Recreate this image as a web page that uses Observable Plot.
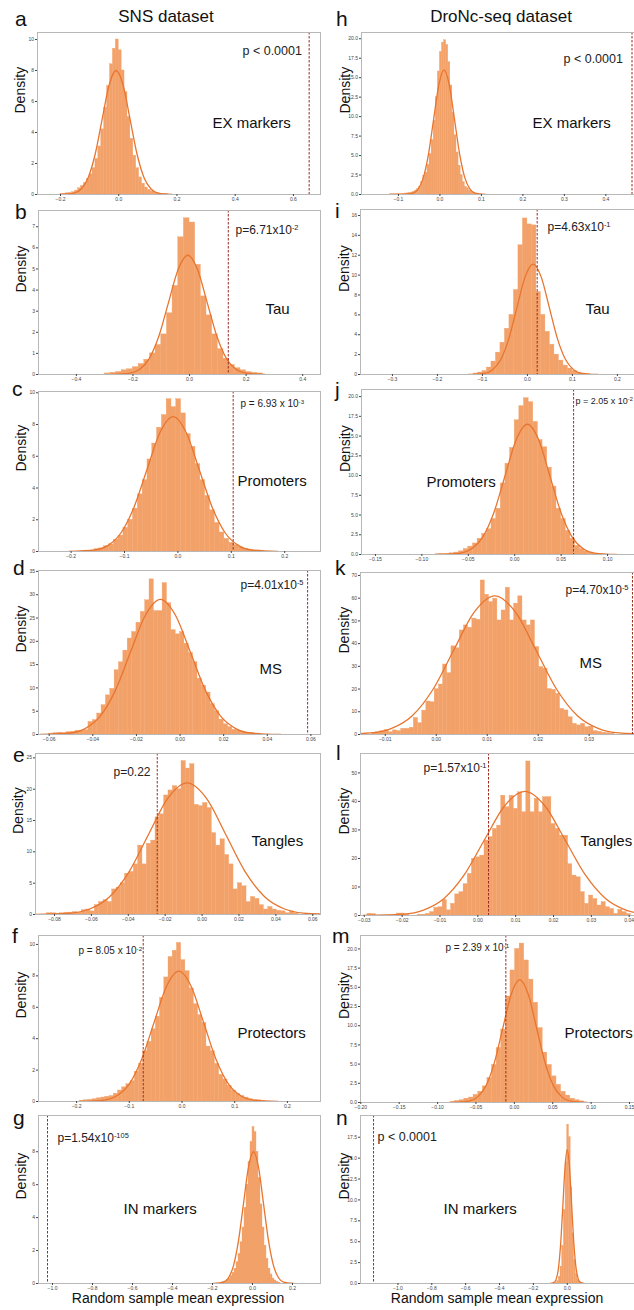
<!DOCTYPE html>
<html><head><meta charset="utf-8">
<script src="https://cdn.jsdelivr.net/npm/d3@7"></script>
<script src="https://cdn.jsdelivr.net/npm/@observablehq/plot@0.6"></script>
<style>
body{margin:0;background:#fff;}
#fig{position:relative;width:634px;height:1310px;overflow:hidden;background:#fff;}
</style></head>
<body><div id="fig"></div>
<script>
// ---------------- DATA ----------------
const columnTitles = ["SNS dataset", "DroNc-seq dataset"];
const panelLetters = ["a","b","c","d","e","f","g","h","i","j","k","l","m","n"];
const xAxisTitle = "Random sample mean expression";
const yAxisTitle = "Density";

// a: SNS, EX markers
const snsExStart = -0.20, snsExWidth = 0.01;
const snsExDensity = [0.03,0.05,0.08,0.1,0.15,0.25,0.4,0.55,0.75,1.0,1.3,1.7,2.3,3.1,4.2,5.6,7.0,8.4,9.4,10.0,9.3,8.0,6.6,5.0,3.6,2.5,1.7,1.1,0.7,0.45,0.3,0.2,0.12,0.08,0.05,0.03,0.02];
const snsExCurveX = [-0.201,-0.153,-0.129,-0.105,-0.081,-0.057,-0.033,-0.009,0.015,0.039,0.063,0.087,0.111,0.135,0.183];
const snsExCurveY = [0.002,0.089,0.351,1.082,2.598,4.852,7.06,8,7.06,4.852,2.598,1.082,0.351,0.089,0.002];
const snsExObserved = 0.654;
const snsExXTicks = [-0.2,0,0.2,0.4,0.6], snsExYTicks = [0,2,4,6,8,10];

// h: DroNc-seq, EX markers
const droExStart = -0.12, droExWidth = 0.005;
const droExDensity = [0.03,0.05,0.05,0.08,0.08,0.1,0.1,0.12,0.15,0.2,0.25,0.35,0.5,0.7,1.0,1.6,2.4,2.8,3.8,5.2,7.0,9.5,12.5,15.8,18.3,19.5,19.8,19.2,17.0,14.0,10.5,7.6,5.4,3.7,2.5,1.6,1.0,0.8,0.5,0.3,0.2,0.1,0.05];
const droExCurveX = [-0.09,-0.065,-0.0525,-0.04,-0.0275,-0.015,-0.0025,0.01,0.0225,0.035,0.0475,0.06,0.0725,0.085,0.11];
const droExCurveY = [0.005,0.178,0.702,2.165,5.195,9.704,14.12,16,14.12,9.704,5.195,2.165,0.702,0.178,0.005];
const droExObserved = 0.463;
const droExXTicks = [-0.1,0,0.1,0.2,0.3,0.4], droExYTicks = [0,2.5,5,7.5,10,12.5,15,17.5,20];

// b: SNS, Tau
const snsTauStart = -0.30, snsTauWidth = 0.02;
const snsTauDensity = [0.05,0.08,0.12,0.2,0.25,0.35,0.5,0.7,1.0,1.4,1.9,2.9,4.2,6.5,7.4,7.2,5.2,3.7,2.8,1.9,1.2,0.75,0.45,0.3,0.2,0.12,0.08,0.05];
const snsTauCurveX = [-0.278,-0.21,-0.176,-0.142,-0.108,-0.074,-0.04,-0.006,0.028,0.062,0.096,0.13,0.164,0.198,0.266];
const snsTauCurveY = [0.002,0.063,0.248,0.764,1.835,3.427,4.986,5.65,4.986,3.427,1.835,0.764,0.248,0.063,0.002];
const snsTauObserved = 0.137;
const snsTauXTicks = [-0.4,-0.2,0,0.2,0.4], snsTauYTicks = [0,1,2,3,4,5,6,7];

// i: DroNc-seq, Tau
const droTauStart = -0.12, droTauWidth = 0.01;
const droTauDensity = [0.1,0.2,0.35,0.7,1.3,2.2,3.2,4.6,6.0,8.5,13.0,15.7,15.1,15.0,8.3,6.0,4.3,3.0,2.0,1.4,0.9,0.6,0.35,0.2,0.1,0.05];
const droTauCurveX = [-0.1313,-0.0953,-0.0773,-0.0593,-0.0413,-0.0233,-0.0053,0.0127,0.0307,0.0487,0.0667,0.0847,0.1027,0.1207,0.1567];
const droTauCurveY = [0.003,0.123,0.487,1.502,3.604,6.732,9.796,11.1,9.796,6.732,3.604,1.502,0.487,0.123,0.003];
const droTauObserved = 0.0217;
const droTauXTicks = [-0.3,-0.2,-0.1,0,0.1,0.2], droTauYTicks = [0,2,4,6,8,10,12,14,16];

// c: SNS, Promoters
const snsProStart = -0.156, snsProWidth = 0.009;
const snsProDensity = [0.15,0.2,0.33,0.45,0.75,1.0,1.5,2.0,2.7,3.6,4.5,5.8,6.8,7.8,8.6,9.6,9.1,9.6,8.7,7.4,6.6,5.5,4.5,3.5,2.6,1.8,1.2,0.8,0.55,0.4,0.25,0.15,0.08,0.04];
const snsProCurveX = [-0.205,-0.156,-0.1315,-0.107,-0.0825,-0.058,-0.0335,-0.009,0.0155,0.04,0.0645,0.089,0.1135,0.138,0.187];
const snsProCurveY = [0.003,0.094,0.373,1.15,2.76,5.155,7.501,8.5,7.501,5.155,2.76,1.15,0.373,0.094,0.003];
const snsProObserved = 0.1035;
const snsProXTicks = [-0.2,-0.1,0,0.1,0.2], snsProYTicks = [0,2,4,6,8,10];

// j: DroNc-seq, Promoters
const droProStart = -0.085, droProWidth = 0.005;
const droProDensity = [0.05,0.08,0.1,0.15,0.25,0.4,0.7,1.0,1.4,2.0,2.6,3.2,4.5,5.8,9.0,11.5,13.5,17.0,18.8,19.8,19.3,16.8,14.5,13.6,11.0,8.6,5.8,4.5,3.0,2.0,1.1,0.7,0.4,0.25,0.12,0.06];
const droProCurveX = [-0.0823,-0.0583,-0.0463,-0.0343,-0.0223,-0.0103,0.0017,0.0137,0.0257,0.0377,0.0497,0.0617,0.0737,0.0857,0.1097];
const droProCurveY = [0.005,0.183,0.724,2.232,5.358,10.007,14.561,16.5,14.561,10.007,5.358,2.232,0.724,0.183,0.005];
const droProObserved = 0.0634;
const droProXTicks = [-0.15,-0.10,-0.05,0,0.05,0.10], droProYTicks = [0,2.5,5,7.5,10,12.5,15,17.5,20];

// d: SNS, MS
const snsMsStart = -0.06, snsMsWidth = 0.002;
const snsMsDensity = [0.2,0.3,0.4,0.3,0.5,0.6,0.8,0.7,0.9,2.7,3.1,4.5,6.3,8.4,9.8,13.8,15.5,18.0,20.6,22.0,24.0,26.3,28.8,33.3,26.5,26.5,32.5,28.2,22.4,21.5,22.0,19.5,17.5,15.5,12.0,10.5,9.0,6.5,5.0,3.2,2.2,1.6,1.0,0.8,0.5,0.4,0.3,0.2];
const snsMsCurveX = [-0.0642,-0.0504,-0.0435,-0.0366,-0.0297,-0.0228,-0.0159,-0.009,-0.0021,0.0048,0.0117,0.0186,0.0255,0.0324,0.0462];
const snsMsCurveY = [0.009,0.322,1.273,3.924,9.416,17.589,25.593,29,25.593,17.589,9.416,3.924,1.273,0.322,0.009];
const snsMsObserved = 0.0585;
const snsMsXTicks = [-0.06,-0.04,-0.02,0,0.02,0.04,0.06], snsMsYTicks = [0,5,10,15,20,25,30,35];

// k: DroNc-seq, MS
const droMsStart = -0.0126, droMsWidth = 0.00082;
const droMsDensity = [0.5,1.0,1.5,2.0,1.0,1.8,1.5,2.5,2.5,3.0,7.3,5.0,10.5,14.5,14.2,20.0,22.0,30.8,27.0,38.8,38.0,45.8,48.0,47.0,51.0,50.5,67.8,61.5,58.3,59.8,50.2,54.6,64.6,50.2,57.6,60.8,50.2,48.0,50.2,38.5,29.7,29.0,20.0,19.7,17.9,11.3,10.6,7.6,4.7,4.0,4.7,3.2,3.5,1.5,1.2,0.8,0.6,0.4];
const droMsCurveX = [-0.0209,-0.0128,-0.00875,-0.0047,-0.00065,0.0034,0.00745,0.0115,0.01555,0.0196,0.02365,0.0277,0.03175,0.0358,0.0439];
const droMsCurveY = [0.018,0.677,2.678,8.253,19.807,36.997,53.833,61,53.833,36.997,19.807,8.253,2.678,0.677,0.018];
const droMsObserved = 0.0385;
const droMsXTicks = [-0.01,0,0.01,0.02,0.03], droMsYTicks = [0,10,20,30,40,50,60,70];

// e: SNS, Tangles
const snsTanStart = -0.084, snsTanWidth = 0.00235;
const snsTanDensity = [0.2,0.2,0.1,0.2,0.3,0.3,0.4,0.3,0.7,0.8,0.5,1.5,2.0,2.3,2.0,4.0,4.3,5.0,6.5,6.8,8.0,11.0,8.0,11.3,11.8,15.5,16.0,19.0,19.8,20.5,20.0,24.5,23.3,24.0,17.5,17.3,17.8,17.0,13.0,11.0,12.0,9.5,8.0,4.0,5.0,4.5,2.0,2.8,2.5,1.5,0.8,1.2,0.8,0.6,0.5,0.2,0.5,0.2];
const snsTanCurveX = [-0.0921,-0.0711,-0.0606,-0.0501,-0.0396,-0.0291,-0.0186,-0.0081,0.0024,0.0129,0.0234,0.0339,0.0444,0.0549,0.0759];
const snsTanCurveY = [0.006,0.233,0.922,2.841,6.819,12.737,18.533,21,18.533,12.737,6.819,2.841,0.922,0.233,0.006];
const snsTanObserved = -0.0243;
const snsTanXTicks = [-0.08,-0.06,-0.04,-0.02,0,0.02,0.04,0.06], snsTanYTicks = [0,5,10,15,20,25];

// l: DroNc-seq, Tangles
const droTanStart = -0.02918, droTanWidth = 0.001105;
const droTanDensity = [0.6,0.5,0,0,0,0,0,0.7,0.7,0.3,0,0,0.3,0.3,0.6,1.2,2.7,2.9,5.5,1.8,4.1,7.4,8.2,11.0,14.6,19.9,20.4,21.0,26.3,27.5,30.4,31.5,42.0,38.0,42.0,37.4,43.2,36.2,54.0,36.2,40.9,36.2,41.5,41.5,32.1,30.4,28.0,28.0,18.0,14.0,13.4,8.2,4.1,7.0,5.8,3.5,4.7,2.9,2.3,0.6,2.0,1.2,0.5];
const droTanCurveX = [-0.0304,-0.0197,-0.01435,-0.009,-0.00365,0.0017,0.00705,0.0124,0.01775,0.0231,0.02845,0.0338,0.03915,0.0445,0.0552];
const droTanCurveY = [0.013,0.483,1.91,5.886,14.124,26.383,38.389,43.5,38.389,26.383,14.124,5.886,1.91,0.483,0.013];
const droTanObserved = 0.00283;
const droTanXTicks = [-0.03,-0.02,-0.01,0,0.01,0.02,0.03,0.04], droTanYTicks = [0,10,20,30,40,50];

// f: SNS, Protectors
const snsProtStart = -0.1936, snsProtWidth = 0.008;
const snsProtDensity = [0.05,0.08,0.1,0.15,0.2,0.25,0.3,0.35,0.5,0.7,0.9,1.1,1.3,1.9,2.4,3.2,3.8,4.6,5.4,6.6,7.9,9.2,9.6,10.1,9.0,8.3,7.2,6.2,5.5,5.0,3.5,3.2,2.4,1.7,1.4,1.0,0.7,0.5,0.35,0.25,0.15,0.1,0.08,0.05];
const snsProtCurveX = [-0.194,-0.147,-0.1235,-0.1,-0.0765,-0.053,-0.0295,-0.006,0.0175,0.041,0.0645,0.088,0.1115,0.135,0.182];
const snsProtCurveY = [0.002,0.092,0.364,1.123,2.695,5.034,7.325,8.3,7.325,5.034,2.695,1.123,0.364,0.092,0.002];
const snsProtObserved = -0.0736;
const snsProtXTicks = [-0.2,-0.1,0,0.1,0.2], snsProtYTicks = [0,2,4,6,8,10];

// m: DroNc-seq, Protectors
const droProtStart = -0.0831, droProtWidth = 0.006;
const droProtDensity = [0.1,0.2,0.3,0.5,0.65,1.0,1.4,2.1,3.2,4.9,7.1,9.5,13.8,17.2,20.0,20.7,18.5,16.0,13.0,9.7,6.5,4.9,3.4,2.3,1.4,0.9,0.5,0.3,0.15];
const droProtCurveX = [-0.081,-0.059,-0.048,-0.037,-0.026,-0.015,-0.004,0.007,0.018,0.029,0.04,0.051,0.062,0.073,0.095];
const droProtCurveY = [0.005,0.178,0.702,2.165,5.195,9.704,14.12,16,14.12,9.704,5.195,2.165,0.702,0.178,0.005];
const droProtObserved = -0.0111;
const droProtXTicks = [-0.20,-0.15,-0.10,-0.05,0,0.05,0.10,0.15], droProtYTicks = [0,2.5,5,7.5,10,12.5,15,17.5,20];

// g: SNS, IN markers
const snsInStart = -0.16, snsInWidth = 0.01;
const snsInDensity = [0.05,0.08,0.12,0.2,0.3,0.45,0.65,0.9,1.3,1.8,2.5,3.4,4.6,6.0,7.4,8.6,9.5,9.2,8.0,6.4,4.8,3.4,2.3,1.5,0.9,0.55,0.3,0.18,0.1,0.05];
const snsInCurveX = [-0.195,-0.145,-0.12,-0.095,-0.07,-0.045,-0.02,0.005,0.03,0.055,0.08,0.105,0.13,0.155,0.205];
const snsInCurveY = [0.002,0.089,0.351,1.082,2.598,4.852,7.06,8,7.06,4.852,2.598,1.082,0.351,0.089,0.002];
const snsInObserved = -1.025;
const snsInXTicks = [-1.0,-0.8,-0.6,-0.4,-0.2,0,0.2], snsInYTicks = [0,2,4,6,8];

// n: DroNc-seq, IN markers
const droInStart = -0.07, droInWidth = 0.01;
const droInDensity = [0.1,0.3,0.8,2.0,4.5,8.8,14.5,19.0,17.5,11.5,6.0,2.8,1.1,0.4,0.15];
const droInCurveX = [-0.1,-0.075,-0.0625,-0.05,-0.0375,-0.025,-0.0125,0,0.0125,0.025,0.0375,0.05,0.0625,0.075,0.1];
const droInCurveY = [0.005,0.178,0.702,2.165,5.195,9.704,14.12,16,14.12,9.704,5.195,2.165,0.702,0.178,0.005];
const droInObserved = -1.144;
const droInXTicks = [-1.0,-0.8,-0.6,-0.4,-0.2,0], droInYTicks = [0,2.5,5,7.5,10,12.5,15,17.5];

// annotation texts
const geneSetNames = ["EX markers","Tau","Promoters","MS","Tangles","Protectors","IN markers"];
const snsPValues = ["p < 0.0001","p=6.71x10^-2","p = 6.93 x 10^-3","p=4.01x10^-5","p=0.22","p = 8.05 x 10^-2","p=1.54x10^-105"];
const droPValues = ["p < 0.0001","p=4.63x10^-1","p = 2.05 x 10^-2","p=4.70x10^-5","p=1.57x10^-1","p = 2.39 x 10^-1","p < 0.0001"];

// ---------------- BUILD ----------------
const f0 = d3.format("d"), f1 = d3.format(".1f"), f2 = d3.format(".2f");
const binsOf = (start, w, dens) => dens.map((d, i) => ({x1: start + i * w, x2: start + (i + 1) * w, y: d}));
const curveOf = (xs, ys) => xs.map((x, i) => ({x, y: ys[i]}));

const barFill = "#f2a169", curveColor = "#e8752f", dashColor = "#9c2a1f";
const fontFam = "'Liberation Sans', Arial, Helvetica, sans-serif";

// layout: frame [left,right,top,bottom] in page px, scale domains, annotation offsets
const panels = [
 {col:0, frame:[37,320,32,194], xd:[-0.279,0.693], yd:[0,10.45], xt:snsExXTicks, yt:snsExYTicks, xf:f1, yf:f0,
  bins:binsOf(snsExStart,snsExWidth,snsExDensity), curve:curveOf(snsExCurveX,snsExCurveY), obs:snsExObserved,
  p:snsPValues[0], pAt:[205,22], pSize:12.5, name:geneSetNames[0], nameAt:[175,95]},
 {col:0, frame:[38,320,210,374], xd:[-0.534,0.463], yd:[0,7.77], xt:snsTauXTicks, yt:snsTauYTicks, xf:f1, yf:f0,
  bins:binsOf(snsTauStart,snsTauWidth,snsTauDensity), curve:curveOf(snsTauCurveX,snsTauCurveY), obs:snsTauObserved,
  p:snsPValues[1], pAt:[197,23], pSize:12, name:geneSetNames[1], nameAt:[227,103]},
 {col:0, frame:[38,320,391,551], xd:[-0.261,0.267], yd:[0,10.08], xt:snsProXTicks, yt:snsProYTicks, xf:f1, yf:f0,
  bins:binsOf(snsProStart,snsProWidth,snsProDensity), curve:curveOf(snsProCurveX,snsProCurveY), obs:snsProObserved,
  p:snsPValues[2], pAt:[202,15], pSize:10, name:geneSetNames[2], nameAt:[199,94]},
 {col:0, frame:[38,320,570,734], xd:[-0.0649,0.0644], yd:[0,35.2], xt:snsMsXTicks, yt:snsMsYTicks, xf:f2, yf:f0,
  bins:binsOf(snsMsStart,snsMsWidth,snsMsDensity), curve:curveOf(snsMsCurveX,snsMsCurveY), obs:snsMsObserved,
  p:snsPValues[3], pAt:[202,18], pSize:12, name:geneSetNames[3], nameAt:[221,103]},
 {col:0, frame:[35,320,753,914], xd:[-0.0903,0.0642], yd:[0,25.7], xt:snsTanXTicks, yt:snsTanYTicks, xf:f2, yf:f0,
  bins:binsOf(snsTanStart,snsTanWidth,snsTanDensity), curve:curveOf(snsTanCurveX,snsTanCurveY), obs:snsTanObserved,
  p:snsPValues[4], pAt:[78,22], pSize:12, name:geneSetNames[4], nameAt:[216,92]},
 {col:0, frame:[38,320,935,1101], xd:[-0.2723,0.2628], yd:[0,10.57], xt:snsProtXTicks, yt:snsProtYTicks, xf:f1, yf:f0,
  bins:binsOf(snsProtStart,snsProtWidth,snsProtDensity), curve:curveOf(snsProtCurveX,snsProtCurveY), obs:snsProtObserved,
  p:snsPValues[5], pAt:[40,18], pSize:10, name:geneSetNames[5], nameAt:[199,102]},
 {col:0, frame:[38,320,1115,1283], xd:[-1.07,0.34], yd:[0,10.2], xt:snsInXTicks, yt:snsInYTicks, xf:f1, yf:f0,
  bins:binsOf(snsInStart,snsInWidth,snsInDensity), curve:curveOf(snsInCurveX,snsInCurveY), obs:snsInObserved,
  p:snsPValues[6], pAt:[19,26], pSize:12, name:geneSetNames[6], nameAt:[85,98]},

 {col:1, frame:[361,634,32,194], xd:[-0.189,0.469], yd:[0,20.8], xt:droExXTicks, yt:droExYTicks, xf:f1, yf:f1,
  bins:binsOf(droExStart,droExWidth,droExDensity), curve:curveOf(droExCurveX,droExCurveY), obs:droExObserved,
  p:droPValues[0], pAt:[202,30], pSize:12.5, name:geneSetNames[0], nameAt:[171,95]},
 {col:1, frame:[360,634,209,374], xd:[-0.371,0.238], yd:[0,16.6], xt:droTauXTicks, yt:droTauYTicks, xf:f1, yf:f0,
  bins:binsOf(droTauStart,droTauWidth,droTauDensity), curve:curveOf(droTauCurveX,droTauCurveY), obs:droTauObserved,
  p:droPValues[1], pAt:[187,21], pSize:12, name:geneSetNames[1], nameAt:[225,104]},
 {col:1, frame:[361,634,389,554], xd:[-0.165,0.129], yd:[0,20.9], xt:droProXTicks, yt:droProYTicks, xf:f2, yf:f1,
  bins:binsOf(droProStart,droProWidth,droProDensity), curve:curveOf(droProCurveX,droProCurveY), obs:droProObserved,
  p:droPValues[2], pAt:[214,14], pSize:9, name:geneSetNames[2], nameAt:[65,97]},
 {col:1, frame:[360,634,572,734], xd:[-0.01486,0.0389], yd:[0,71.3], xt:droMsXTicks, yt:droMsYTicks, xf:f2, yf:f0,
  bins:binsOf(droMsStart,droMsWidth,droMsDensity), curve:curveOf(droMsCurveX,droMsCurveY), obs:droMsObserved,
  p:droPValues[3], pAt:[205,21], pSize:12, name:geneSetNames[3], nameAt:[219,95]},
 {col:1, frame:[360,634,753,915], xd:[-0.031,0.0414], yd:[0,56.8], xt:droTanXTicks, yt:droTanYTicks, xf:f2, yf:f0,
  bins:binsOf(droTanStart,droTanWidth,droTanDensity), curve:curveOf(droTanCurveX,droTanCurveY), obs:droTanObserved,
  p:droPValues[4], pAt:[63,18], pSize:12, name:geneSetNames[4], nameAt:[220,92]},
 {col:1, frame:[360,634,935,1102], xd:[-0.2004,0.1565], yd:[0,21.75], xt:droProtXTicks, yt:droProtYTicks, xf:f2, yf:f1,
  bins:binsOf(droProtStart,droProtWidth,droProtDensity), curve:curveOf(droProtCurveX,droProtCurveY), obs:droProtObserved,
  p:droPValues[5], pAt:[85,15], pSize:10, name:geneSetNames[5], nameAt:[204,102]},
 {col:1, frame:[360,634,1115,1283], xd:[-1.221,0.397], yd:[0,20.1], xt:droInXTicks, yt:droInYTicks, xf:f1, yf:f1,
  bins:binsOf(droInStart,droInWidth,droInDensity), curve:curveOf(droInCurveX,droInCurveY), obs:droInObserved,
  p:droPValues[6], pAt:[17,25], pSize:12.5, name:geneSetNames[6], nameAt:[83,98]}
];

const fig = document.getElementById("fig");

function superscripts(svg) {
  svg.querySelectorAll("text").forEach(t => {
    const s = t.textContent, i = s.indexOf("^");
    if (i < 0) return;
    t.textContent = s.slice(0, i);
    const ts = document.createElementNS("http://www.w3.org/2000/svg", "tspan");
    ts.setAttribute("dy", "-0.45em");
    ts.setAttribute("font-size", "0.62em");
    ts.textContent = s.slice(i + 1);
    t.appendChild(ts);
  });
}

for (const p of panels) {
  const [fl, fr, ft, fb] = p.frame;
  const sx = p.col === 0 ? 0 : 322;
  const sw = p.col === 0 ? 322 : 312;
  const sy = ft - 14, sh = fb + 12 - sy;
  const svg = Plot.plot({
    width: sw, height: sh,
    marginLeft: fl - sx, marginRight: sx + sw - fr, marginTop: ft - sy, marginBottom: sy + sh - fb,
    x: {domain: p.xd}, y: {domain: p.yd},
    style: {background: "transparent", fontFamily: fontFam, color: "#222"},
    marks: [
      Plot.rectY(p.bins, {x1: "x1", x2: "x2", y: "y", fill: barFill, stroke: barFill, strokeWidth: 0.35, clip: true}),
      Plot.line(p.curve, {x: "x", y: "y", stroke: curveColor, strokeWidth: 1.3, curve: "monotone-x", clip: true}),
      Plot.ruleX([p.obs], {stroke: dashColor, strokeWidth: 1, strokeDasharray: "2.5,1.5", clip: true}),
      Plot.frame({stroke: "#b8b8b8", strokeWidth: 1}),
      Plot.axisX({ticks: p.xt, tickFormat: p.xf, tickSize: 2, tickPadding: 1, fontSize: 5, label: null, color: "#444"}),
      Plot.axisY({ticks: p.yt, tickFormat: p.yf, tickSize: 2, tickPadding: 1.5, fontSize: 5, label: null, color: "#444"}),
      Plot.text([yAxisTitle], {frameAnchor: "left", rotate: -90, dx: p.col === 0 ? -16.5 : -16, fontSize: 14, fill: "#111"}),
      Plot.text([p.p], {frameAnchor: "top-left", textAnchor: "start", lineAnchor: "bottom", dx: p.pAt[0], dy: p.pAt[1], fontSize: p.pSize, fill: "#222"}),
      Plot.text([p.name], {frameAnchor: "top-left", textAnchor: "start", lineAnchor: "bottom", dx: p.nameAt[0], dy: p.nameAt[1], fontSize: 15, fill: "#111"})
    ]
  });
  superscripts(svg);
  svg.style.position = "absolute";
  svg.style.left = sx + "px";
  svg.style.top = sy + "px";
  svg.style.maxWidth = "none";
  fig.appendChild(svg);
}

// overlay: column titles, panel letters, x-axis titles
const letterPos = [[15,26],[15,219],[12,396],[13,575],[13,762],[12,943],[13,1125],
                   [336,26],[335,218],[335,397],[335,575],[336,760],[332,943],[336,1125]];
const ov = d3.select(fig).append("svg")
  .attr("width", 634).attr("height", 1310)
  .style("position", "absolute").style("left", "0px").style("top", "0px")
  .style("font-family", fontFam);
ov.selectAll("text.title").data(columnTitles).join("text")
  .attr("x", (d, i) => i === 0 ? 166 : 501).attr("y", 22)
  .attr("text-anchor", "middle").attr("font-size", 17).attr("fill", "#111").text(d => d);
ov.selectAll("text.letter").data(panelLetters).join("text")
  .attr("x", (d, i) => letterPos[i][0]).attr("y", (d, i) => letterPos[i][1])
  .attr("font-size", 21).attr("fill", "#111").text(d => d);
ov.selectAll("text.xlab").data([0, 1]).join("text")
  .attr("x", d => d === 0 ? 178 : 497).attr("y", 1303)
  .attr("text-anchor", "middle").attr("font-size", 14).attr("fill", "#111").text(xAxisTitle);
</script>
</body></html>
